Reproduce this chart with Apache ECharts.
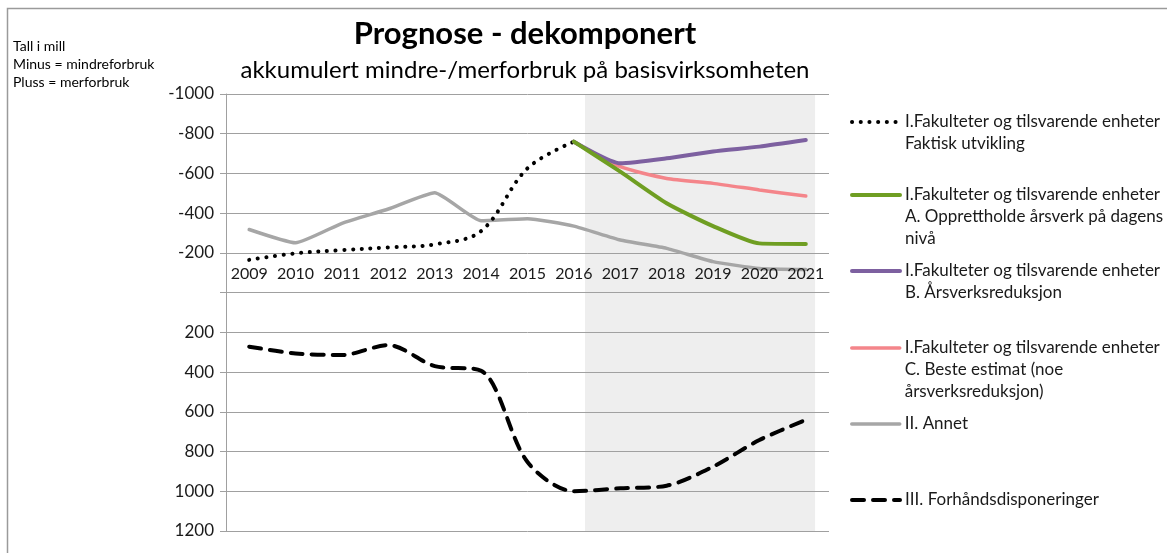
<!DOCTYPE html>
<html>
<head>
<meta charset="utf-8">
<script src="https://cdn.jsdelivr.net/npm/echarts@6/dist/echarts.min.js"></script>
<style>
html, body { margin: 0; padding: 0; background: #fff; }
#chart { width: 1167px; height: 553px; }
</style>
</head>
<body>
<div id="chart"></div>
<script>
// data
var years = ['2009', '2010', '2011', '2012', '2013', '2014', '2015', '2016', '2017', '2018', '2019', '2020', '2021']
var faktisk = [-165, -198, -214, -228, -243, -310, -626, -760, null, null, null, null, null]
var alternativA = [null, null, null, null, null, null, null, -760, -609, -450, -335, -248, -245]
var alternativB = [null, null, null, null, null, null, null, -760, -651, -676, -711, -735, -768]
var alternativC = [null, null, null, null, null, null, null, -760, -634, -575, -550, -517, -486]
var annet = [-318, -251, -349, -421, -503, -362, -372, -335, -265, -223, -156, -122, -117]
var forhand = [272, 306, 314, 264, 370, 393, 853, 1000, 985, 972, 876, 742, 641]
var yMin = -1000
var yMax = 1200
var yStep = 200
// prognoseperiode (skravert), i kategori-indeks
var prognoseFra = 7.24
var prognoseTil = 12.2

var names = [
    'I.Fakulteter og tilsvarende enheter\nFaktisk utvikling',
    'I.Fakulteter og tilsvarende enheter\nA. Opprettholde årsverk på dagens\nnivå',
    'I.Fakulteter og tilsvarende enheter\nB. Årsverksreduksjon',
    'I.Fakulteter og tilsvarende enheter\nC. Beste estimat (noe\nårsverksreduksjon)',
    'II. Annet',
    'III. Forhåndsdisponeringer'
]
var legendLines = [122, 195, 271, 348, 424, 500]

var FONT = 'Lato'
var LH = 22
var GRID = { left: 226, right: 338, top: 94, bottom: 22 }
var plotHeight = 553 - GRID.top - GRID.bottom
// x-aksen ligger på 0-linjen
var zeroOffset = -(yMax / (yMax - yMin)) * plotHeight

var chart = echarts.init(document.getElementById('chart'))

// en legend per serie, slik at ikonet står ved første tekstlinje
var legends = names.map(function (n, i) {
    var lines = n.split('\n').length
    return {
        data: [n],
        left: 850,
        top: legendLines[i] - (2 * lines - 1) * LH / 2,
        padding: 0,
        itemWidth: 48,
        itemHeight: 14,
        itemGap: 0,
        selectedMode: false,
        itemStyle: { opacity: 0 },
        lineStyle: { width: 'inherit', type: 'inherit', cap: 'inherit' },
        formatter: function (name) {
            return new Array(lines).join('\n') + name
        },
        textStyle: {
            fontFamily: FONT,
            fontSize: 17,
            color: '#1a1a1a',
            lineHeight: LH
        }
    }
})

function line(name, data, color, width, type, smooth) {
    return {
        name: name,
        type: 'line',
        data: data,
        z: 3,
        symbol: 'none',
        smooth: smooth,
        connectNulls: false,
        lineStyle: { color: color, width: width, type: type, cap: 'round' },
        itemStyle: { color: color }
    }
}

var option = {
    animation: false,
    title: [
        {
            text: 'Prognose - dekomponert',
            subtext: 'akkumulert mindre-/merforbruk på basisvirksomheten',
            left: 520,
            top: 13,
            textAlign: 'center',
            itemGap: 9,
            textStyle: { fontFamily: FONT, fontSize: 31, fontWeight: 'bold', color: '#000' },
            subtextStyle: { fontFamily: FONT, fontSize: 24, color: '#000' }
        },
        {
            text: 'Tall i mill\nMinus = mindreforbruk\nPluss = merforbruk',
            left: 8,
            top: 32,
            textStyle: { fontFamily: FONT, fontSize: 14, fontWeight: 'normal', color: '#000', lineHeight: 18 }
        }
    ],
    legend: legends,
    grid: { left: GRID.left, right: GRID.right, top: GRID.top, bottom: GRID.bottom, containLabel: false },
    xAxis: [
        {
            type: 'category',
            data: years,
            z: 4,
            position: 'bottom',
            offset: zeroOffset,
            axisLine: { onZero: false, lineStyle: { color: '#a0a0a0', width: 1 } },
            axisTick: { alignWithLabel: true, inside: true, length: 5, lineStyle: { color: '#a0a0a0' } },
            axisLabel: { inside: true, interval: 0, margin: 11, fontFamily: FONT, fontSize: 16, color: '#1a1a1a' },
            splitLine: { show: false }
        },
        {
            type: 'value',
            min: -0.5,
            max: 12.5,
            show: false,
            axisLine: { onZero: false }
        }
    ],
    yAxis: {
        type: 'value',
        inverse: true,
        min: yMin,
        max: yMax,
        interval: yStep,
        z: 2,
        axisLine: { show: true, onZero: false, lineStyle: { color: '#a0a0a0' } },
        axisTick: { show: true, length: 6, lineStyle: { color: '#a0a0a0' } },
        axisLabel: {
            fontFamily: FONT, fontSize: 17, color: '#1a1a1a', margin: 12,
            formatter: function (v) { return v === 0 ? '' : String(v) }
        },
        splitLine: { show: true, lineStyle: { color: '#a0a0a0', width: 1 } }
    },
    graphic: [
        {
            type: 'polyline',
            shape: { points: [[7.5, 553], [7.5, 8.5], [1167, 8.5]] },
            style: { stroke: '#9a9a9a', lineWidth: 1.5, fill: null },
            silent: true
        }
    ],
    series: [
        {
            name: 'prognoseperiode',
            type: 'line',
            xAxisIndex: 1,
            data: [],
            z: 1,
            silent: true,
            markArea: {
                silent: true,
                itemStyle: { color: '#eeeeee' },
                data: [[{ xAxis: prognoseFra }, { xAxis: prognoseTil }]]
            }
        },
        line(names[4], annet, '#a6a6a6', 3.5, 'solid', 0.15),
        line(names[0], faktisk, '#000000', 4, [0.1, 8.6], 0.35),
        line(names[5], forhand, '#000000', 4, [12, 9], 0.3),
        line(names[3], alternativC, '#f4858a', 3.5, 'solid', 0.2),
        line(names[2], alternativB, '#7d60a0', 4, 'solid', 0.2),
        line(names[1], alternativA, '#6f9e22', 4, 'solid', 0.2)
    ]
}
chart.setOption(option)
</script>
</body>
</html>
